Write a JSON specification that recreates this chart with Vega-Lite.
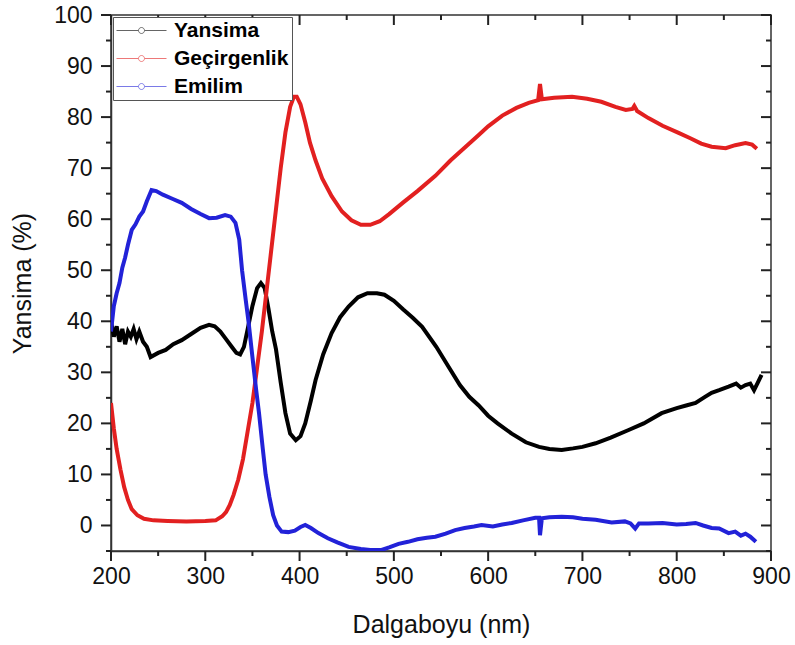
{
  "$schema": "https://vega.github.io/schema/vega-lite/v6.json",
  "width": 660,
  "height": 536,
  "autosize": {"type": "none"},
  "padding": {"left": 111, "top": 15, "right": 24, "bottom": 94},
  "background": "white",
  "config": {
    "view": {"stroke": "#333333", "strokeWidth": 1.5},
    "font": "Liberation Sans",
    "axis": {
      "grid": false,
      "ticks": false,
      "domainColor": "#333333",
      "domainWidth": 1.5,
      "labelFont": "Liberation Sans",
      "labelFontSize": 23,
      "labelColor": "#111111",
      "labelFlush": false,
      "labelOverlap": false,
      "titleFont": "Liberation Sans",
      "titleFontSize": 25,
      "titleFontWeight": "normal",
      "titleColor": "#111111"
    },
    "legend": {
      "orient": "top-left",
      "offset": 2,
      "labelFont": "Liberation Sans",
      "labelFontSize": 21,
      "labelFontWeight": "bold",
      "labelColor": "#000000",
      "strokeColor": "#555555",
      "fillColor": "white",
      "padding": 3,
      "rowPadding": 6,
      "labelOffset": 37,
      "symbolType": "M-1,0H1.2M1.8,0H4M1.8,0A0.3,0.3,0,1,1,1.2,0A0.3,0.3,0,1,1,1.8,0",
      "symbolSize": 400,
      "symbolStrokeWidth": 1,
      "symbolOpacity": 0.6,
      "symbolFillColor": "transparent"
    }
  },
  "datasets": {
    "xt": [
      {"t": 200, "m": 1}, {"t": 250, "m": 0}, {"t": 300, "m": 1}, {"t": 350, "m": 0},
      {"t": 400, "m": 1}, {"t": 450, "m": 0}, {"t": 500, "m": 1}, {"t": 550, "m": 0},
      {"t": 600, "m": 1}, {"t": 650, "m": 0}, {"t": 700, "m": 1}, {"t": 750, "m": 0},
      {"t": 800, "m": 1}, {"t": 850, "m": 0}, {"t": 900, "m": 1}
    ],
    "yt": [
      {"t": -5, "m": 0}, {"t": 0, "m": 1}, {"t": 5, "m": 0}, {"t": 10, "m": 1},
      {"t": 15, "m": 0}, {"t": 20, "m": 1}, {"t": 25, "m": 0}, {"t": 30, "m": 1},
      {"t": 35, "m": 0}, {"t": 40, "m": 1}, {"t": 45, "m": 0}, {"t": 50, "m": 1},
      {"t": 55, "m": 0}, {"t": 60, "m": 1}, {"t": 65, "m": 0}, {"t": 70, "m": 1},
      {"t": 75, "m": 0}, {"t": 80, "m": 1}, {"t": 85, "m": 0}, {"t": 90, "m": 1},
      {"t": 95, "m": 0}, {"t": 100, "m": 1}
    ],
    "main": [
      {"s": "Yansima", "w": 200, "v": 40},
      {"s": "Yansima", "w": 203, "v": 37},
      {"s": "Yansima", "w": 206, "v": 39},
      {"s": "Yansima", "w": 209, "v": 36},
      {"s": "Yansima", "w": 212, "v": 38.5},
      {"s": "Yansima", "w": 215, "v": 35.5},
      {"s": "Yansima", "w": 218, "v": 38},
      {"s": "Yansima", "w": 221, "v": 37},
      {"s": "Yansima", "w": 224, "v": 38.5},
      {"s": "Yansima", "w": 227, "v": 36.5},
      {"s": "Yansima", "w": 230, "v": 38},
      {"s": "Yansima", "w": 234, "v": 36},
      {"s": "Yansima", "w": 238, "v": 35},
      {"s": "Yansima", "w": 242, "v": 33},
      {"s": "Yansima", "w": 250, "v": 33.8},
      {"s": "Yansima", "w": 258, "v": 34.4},
      {"s": "Yansima", "w": 266, "v": 35.5},
      {"s": "Yansima", "w": 275, "v": 36.3},
      {"s": "Yansima", "w": 285, "v": 37.5},
      {"s": "Yansima", "w": 295, "v": 38.7},
      {"s": "Yansima", "w": 304, "v": 39.3},
      {"s": "Yansima", "w": 310, "v": 39},
      {"s": "Yansima", "w": 316, "v": 38},
      {"s": "Yansima", "w": 322, "v": 36.5},
      {"s": "Yansima", "w": 328, "v": 35},
      {"s": "Yansima", "w": 333, "v": 33.8},
      {"s": "Yansima", "w": 337, "v": 33.5},
      {"s": "Yansima", "w": 341, "v": 35},
      {"s": "Yansima", "w": 345, "v": 38.5},
      {"s": "Yansima", "w": 350, "v": 43},
      {"s": "Yansima", "w": 355, "v": 46.5},
      {"s": "Yansima", "w": 359, "v": 47.5},
      {"s": "Yansima", "w": 363, "v": 46.5},
      {"s": "Yansima", "w": 367, "v": 42.5},
      {"s": "Yansima", "w": 371, "v": 38},
      {"s": "Yansima", "w": 375, "v": 34.5},
      {"s": "Yansima", "w": 380, "v": 28},
      {"s": "Yansima", "w": 385, "v": 22},
      {"s": "Yansima", "w": 390, "v": 18},
      {"s": "Yansima", "w": 396, "v": 16.7},
      {"s": "Yansima", "w": 401, "v": 17.5},
      {"s": "Yansima", "w": 406, "v": 20},
      {"s": "Yansima", "w": 412, "v": 24.5},
      {"s": "Yansima", "w": 417, "v": 28.5},
      {"s": "Yansima", "w": 425, "v": 33.5},
      {"s": "Yansima", "w": 434, "v": 37.7},
      {"s": "Yansima", "w": 443, "v": 40.8},
      {"s": "Yansima", "w": 452, "v": 42.9},
      {"s": "Yansima", "w": 462, "v": 44.7},
      {"s": "Yansima", "w": 472, "v": 45.5},
      {"s": "Yansima", "w": 482, "v": 45.5},
      {"s": "Yansima", "w": 490, "v": 45.2},
      {"s": "Yansima", "w": 500, "v": 44},
      {"s": "Yansima", "w": 510, "v": 42.3},
      {"s": "Yansima", "w": 520, "v": 40.7},
      {"s": "Yansima", "w": 530, "v": 38.9},
      {"s": "Yansima", "w": 545, "v": 35},
      {"s": "Yansima", "w": 558, "v": 31.1},
      {"s": "Yansima", "w": 570, "v": 27.5},
      {"s": "Yansima", "w": 580, "v": 25.2},
      {"s": "Yansima", "w": 590, "v": 23.5},
      {"s": "Yansima", "w": 600, "v": 21.5},
      {"s": "Yansima", "w": 610, "v": 20},
      {"s": "Yansima", "w": 625, "v": 18},
      {"s": "Yansima", "w": 640, "v": 16.3},
      {"s": "Yansima", "w": 654, "v": 15.4},
      {"s": "Yansima", "w": 665, "v": 15},
      {"s": "Yansima", "w": 678, "v": 14.8},
      {"s": "Yansima", "w": 690, "v": 15.1},
      {"s": "Yansima", "w": 700, "v": 15.4},
      {"s": "Yansima", "w": 714, "v": 16.1},
      {"s": "Yansima", "w": 730, "v": 17.2},
      {"s": "Yansima", "w": 749, "v": 18.7},
      {"s": "Yansima", "w": 765, "v": 20},
      {"s": "Yansima", "w": 784, "v": 22},
      {"s": "Yansima", "w": 800, "v": 23},
      {"s": "Yansima", "w": 810, "v": 23.5},
      {"s": "Yansima", "w": 820, "v": 24},
      {"s": "Yansima", "w": 830, "v": 25.2},
      {"s": "Yansima", "w": 837, "v": 26},
      {"s": "Yansima", "w": 845, "v": 26.5},
      {"s": "Yansima", "w": 855, "v": 27.2},
      {"s": "Yansima", "w": 863, "v": 27.8},
      {"s": "Yansima", "w": 868, "v": 27},
      {"s": "Yansima", "w": 873, "v": 27.5},
      {"s": "Yansima", "w": 878, "v": 27.8},
      {"s": "Yansima", "w": 882, "v": 26.5},
      {"s": "Yansima", "w": 886, "v": 28},
      {"s": "Yansima", "w": 890, "v": 29.5},

      {"s": "Geçirgenlik", "w": 200, "v": 24},
      {"s": "Geçirgenlik", "w": 203, "v": 19},
      {"s": "Geçirgenlik", "w": 206, "v": 15},
      {"s": "Geçirgenlik", "w": 210, "v": 11},
      {"s": "Geçirgenlik", "w": 214, "v": 7.5},
      {"s": "Geçirgenlik", "w": 218, "v": 5},
      {"s": "Geçirgenlik", "w": 222, "v": 3.2},
      {"s": "Geçirgenlik", "w": 228, "v": 2},
      {"s": "Geçirgenlik", "w": 235, "v": 1.3},
      {"s": "Geçirgenlik", "w": 245, "v": 1},
      {"s": "Geçirgenlik", "w": 260, "v": 0.9},
      {"s": "Geçirgenlik", "w": 280, "v": 0.8},
      {"s": "Geçirgenlik", "w": 300, "v": 0.9},
      {"s": "Geçirgenlik", "w": 311, "v": 1},
      {"s": "Geçirgenlik", "w": 318, "v": 1.8},
      {"s": "Geçirgenlik", "w": 322, "v": 2.6},
      {"s": "Geçirgenlik", "w": 326, "v": 4},
      {"s": "Geçirgenlik", "w": 330, "v": 6},
      {"s": "Geçirgenlik", "w": 335, "v": 9},
      {"s": "Geçirgenlik", "w": 340, "v": 13},
      {"s": "Geçirgenlik", "w": 345, "v": 18.5},
      {"s": "Geçirgenlik", "w": 350, "v": 24},
      {"s": "Geçirgenlik", "w": 355, "v": 31},
      {"s": "Geçirgenlik", "w": 360, "v": 38},
      {"s": "Geçirgenlik", "w": 365, "v": 46},
      {"s": "Geçirgenlik", "w": 370, "v": 54},
      {"s": "Geçirgenlik", "w": 375, "v": 62},
      {"s": "Geçirgenlik", "w": 380, "v": 70},
      {"s": "Geçirgenlik", "w": 385, "v": 77},
      {"s": "Geçirgenlik", "w": 390, "v": 82},
      {"s": "Geçirgenlik", "w": 394, "v": 84},
      {"s": "Geçirgenlik", "w": 397, "v": 84},
      {"s": "Geçirgenlik", "w": 401, "v": 82.5},
      {"s": "Geçirgenlik", "w": 406, "v": 79},
      {"s": "Geçirgenlik", "w": 411, "v": 75},
      {"s": "Geçirgenlik", "w": 417, "v": 71.5},
      {"s": "Geçirgenlik", "w": 424, "v": 68},
      {"s": "Geçirgenlik", "w": 434, "v": 64.5},
      {"s": "Geçirgenlik", "w": 445, "v": 61.5},
      {"s": "Geçirgenlik", "w": 455, "v": 59.8},
      {"s": "Geçirgenlik", "w": 465, "v": 58.9},
      {"s": "Geçirgenlik", "w": 475, "v": 58.9},
      {"s": "Geçirgenlik", "w": 485, "v": 59.6},
      {"s": "Geçirgenlik", "w": 495, "v": 61},
      {"s": "Geçirgenlik", "w": 510, "v": 63.3},
      {"s": "Geçirgenlik", "w": 525, "v": 65.5},
      {"s": "Geçirgenlik", "w": 544, "v": 68.5},
      {"s": "Geçirgenlik", "w": 560, "v": 71.5},
      {"s": "Geçirgenlik", "w": 575, "v": 74},
      {"s": "Geçirgenlik", "w": 590, "v": 76.5},
      {"s": "Geçirgenlik", "w": 600, "v": 78.2},
      {"s": "Geçirgenlik", "w": 615, "v": 80.3},
      {"s": "Geçirgenlik", "w": 630, "v": 81.8},
      {"s": "Geçirgenlik", "w": 643, "v": 82.8},
      {"s": "Geçirgenlik", "w": 653, "v": 83.3},
      {"s": "Geçirgenlik", "w": 655, "v": 86.5},
      {"s": "Geçirgenlik", "w": 657, "v": 83.5},
      {"s": "Geçirgenlik", "w": 670, "v": 83.8},
      {"s": "Geçirgenlik", "w": 689, "v": 84},
      {"s": "Geçirgenlik", "w": 705, "v": 83.6},
      {"s": "Geçirgenlik", "w": 720, "v": 83},
      {"s": "Geçirgenlik", "w": 735, "v": 82},
      {"s": "Geçirgenlik", "w": 746, "v": 81.4},
      {"s": "Geçirgenlik", "w": 753, "v": 81.6},
      {"s": "Geçirgenlik", "w": 755, "v": 82.2},
      {"s": "Geçirgenlik", "w": 758, "v": 81.2},
      {"s": "Geçirgenlik", "w": 770, "v": 79.8},
      {"s": "Geçirgenlik", "w": 785, "v": 78.3},
      {"s": "Geçirgenlik", "w": 802, "v": 76.9},
      {"s": "Geçirgenlik", "w": 815, "v": 75.8},
      {"s": "Geçirgenlik", "w": 826, "v": 74.8},
      {"s": "Geçirgenlik", "w": 837, "v": 74.2},
      {"s": "Geçirgenlik", "w": 852, "v": 73.9},
      {"s": "Geçirgenlik", "w": 862, "v": 74.5},
      {"s": "Geçirgenlik", "w": 873, "v": 74.9},
      {"s": "Geçirgenlik", "w": 880, "v": 74.6},
      {"s": "Geçirgenlik", "w": 885, "v": 73.8},

      {"s": "Emilim", "w": 200, "v": 38},
      {"s": "Emilim", "w": 203, "v": 43},
      {"s": "Emilim", "w": 206, "v": 45.5},
      {"s": "Emilim", "w": 209, "v": 47.5},
      {"s": "Emilim", "w": 212, "v": 50.5},
      {"s": "Emilim", "w": 215, "v": 52.5},
      {"s": "Emilim", "w": 218, "v": 55},
      {"s": "Emilim", "w": 222, "v": 57.9},
      {"s": "Emilim", "w": 226, "v": 59},
      {"s": "Emilim", "w": 230, "v": 60.5},
      {"s": "Emilim", "w": 234, "v": 61.5},
      {"s": "Emilim", "w": 238, "v": 63.5},
      {"s": "Emilim", "w": 243, "v": 65.7},
      {"s": "Emilim", "w": 248, "v": 65.5},
      {"s": "Emilim", "w": 255, "v": 64.8},
      {"s": "Emilim", "w": 265, "v": 64},
      {"s": "Emilim", "w": 275, "v": 63.2},
      {"s": "Emilim", "w": 285, "v": 62},
      {"s": "Emilim", "w": 295, "v": 61},
      {"s": "Emilim", "w": 304, "v": 60.2},
      {"s": "Emilim", "w": 312, "v": 60.3},
      {"s": "Emilim", "w": 321, "v": 60.8},
      {"s": "Emilim", "w": 327, "v": 60.5},
      {"s": "Emilim", "w": 332, "v": 59.3},
      {"s": "Emilim", "w": 336, "v": 56},
      {"s": "Emilim", "w": 339, "v": 50},
      {"s": "Emilim", "w": 343, "v": 44},
      {"s": "Emilim", "w": 346, "v": 39.7},
      {"s": "Emilim", "w": 350, "v": 33},
      {"s": "Emilim", "w": 354, "v": 26.5},
      {"s": "Emilim", "w": 357, "v": 22},
      {"s": "Emilim", "w": 361, "v": 15},
      {"s": "Emilim", "w": 364, "v": 10},
      {"s": "Emilim", "w": 368, "v": 5.6},
      {"s": "Emilim", "w": 372, "v": 2},
      {"s": "Emilim", "w": 376, "v": 0},
      {"s": "Emilim", "w": 381, "v": -1.2},
      {"s": "Emilim", "w": 388, "v": -1.3},
      {"s": "Emilim", "w": 395, "v": -1},
      {"s": "Emilim", "w": 401, "v": -0.3},
      {"s": "Emilim", "w": 406, "v": 0.1},
      {"s": "Emilim", "w": 412, "v": -0.5},
      {"s": "Emilim", "w": 420, "v": -1.5},
      {"s": "Emilim", "w": 430, "v": -2.5},
      {"s": "Emilim", "w": 440, "v": -3.3},
      {"s": "Emilim", "w": 452, "v": -4.2},
      {"s": "Emilim", "w": 465, "v": -4.6},
      {"s": "Emilim", "w": 475, "v": -4.8},
      {"s": "Emilim", "w": 487, "v": -4.8},
      {"s": "Emilim", "w": 495, "v": -4.3},
      {"s": "Emilim", "w": 505, "v": -3.6},
      {"s": "Emilim", "w": 515, "v": -3.2},
      {"s": "Emilim", "w": 525, "v": -2.7},
      {"s": "Emilim", "w": 535, "v": -2.4},
      {"s": "Emilim", "w": 544, "v": -2.2},
      {"s": "Emilim", "w": 555, "v": -1.6},
      {"s": "Emilim", "w": 565, "v": -0.9},
      {"s": "Emilim", "w": 575, "v": -0.5},
      {"s": "Emilim", "w": 585, "v": -0.2},
      {"s": "Emilim", "w": 593, "v": 0.1},
      {"s": "Emilim", "w": 605, "v": -0.2},
      {"s": "Emilim", "w": 615, "v": 0.2},
      {"s": "Emilim", "w": 625, "v": 0.5},
      {"s": "Emilim", "w": 637, "v": 1},
      {"s": "Emilim", "w": 650, "v": 1.5},
      {"s": "Emilim", "w": 654, "v": 1.5},
      {"s": "Emilim", "w": 655, "v": -1.9},
      {"s": "Emilim", "w": 657, "v": 1.4},
      {"s": "Emilim", "w": 665, "v": 1.6},
      {"s": "Emilim", "w": 678, "v": 1.7},
      {"s": "Emilim", "w": 690, "v": 1.6},
      {"s": "Emilim", "w": 700, "v": 1.3},
      {"s": "Emilim", "w": 714, "v": 1.1},
      {"s": "Emilim", "w": 731, "v": 0.6},
      {"s": "Emilim", "w": 745, "v": 0.8},
      {"s": "Emilim", "w": 751, "v": 0.4},
      {"s": "Emilim", "w": 756, "v": -0.6},
      {"s": "Emilim", "w": 760, "v": 0.4},
      {"s": "Emilim", "w": 770, "v": 0.4},
      {"s": "Emilim", "w": 785, "v": 0.5},
      {"s": "Emilim", "w": 800, "v": 0.2},
      {"s": "Emilim", "w": 810, "v": 0.3},
      {"s": "Emilim", "w": 820, "v": 0.5},
      {"s": "Emilim", "w": 828, "v": 0},
      {"s": "Emilim", "w": 837, "v": -0.5},
      {"s": "Emilim", "w": 845, "v": -0.6},
      {"s": "Emilim", "w": 855, "v": -1.5},
      {"s": "Emilim", "w": 862, "v": -1.2},
      {"s": "Emilim", "w": 868, "v": -2},
      {"s": "Emilim", "w": 873, "v": -1.6},
      {"s": "Emilim", "w": 878, "v": -2.2},
      {"s": "Emilim", "w": 884, "v": -3.2}
    ]
  },
  "layer": [
    {
      "data": {"name": "main"},
      "mark": {"type": "line", "strokeWidth": 4, "clip": true},
      "encoding": {
        "x": {
          "field": "w", "type": "quantitative", "title": "Dalgaboyu (nm)",
          "scale": {"domain": [200, 900], "nice": false, "zero": false},
          "axis": {
            "orient": "bottom",
            "values": [200, 300, 400, 500, 600, 700, 800, 900],
            "ticks": false, "tickSize": 0,
            "labelPadding": 14,
            "titlePadding": 24
          }
        },
        "y": {
          "field": "v", "type": "quantitative", "title": "Yansima (%)",
          "scale": {"domain": [-5, 100], "nice": false, "zero": false},
          "axis": {
            "orient": "left",
            "values": [0, 10, 20, 30, 40, 50, 60, 70, 80, 90, 100],
            "ticks": false, "tickSize": 0,
            "labelPadding": 19,
            "titlePadding": 18
          }
        },
        "color": {
          "field": "s", "type": "nominal",
          "scale": {"domain": ["Yansima", "Geçirgenlik", "Emilim"], "range": ["#000000", "#e22020", "#2222d8"]},
          "legend": {"title": null}
        }
      }
    },
    {
      "data": {"name": "xt"},
      "transform": [{"filter": "datum.m == 1"}],
      "mark": {"type": "rule", "strokeWidth": 2, "color": "#222222", "opacity": 1, "y2Offset": 10},
      "encoding": {
        "x": {"field": "t", "type": "quantitative", "title": "Dalgaboyu (nm)"},
        "y": {"datum": -5, "type": "quantitative", "title": "Yansima (%)"},
        "y2": {"datum": -5}
      }
    },
    {
      "data": {"name": "xt"},
      "transform": [{"filter": "datum.m == 0"}],
      "mark": {"type": "rule", "strokeWidth": 2, "color": "#222222", "opacity": 1, "y2Offset": 5},
      "encoding": {
        "x": {"field": "t", "type": "quantitative", "title": "Dalgaboyu (nm)"},
        "y": {"datum": -5, "type": "quantitative", "title": "Yansima (%)"},
        "y2": {"datum": -5}
      }
    },
    {
      "data": {"name": "xt"},
      "transform": [{"filter": "datum.m == 1"}],
      "mark": {"type": "rule", "strokeWidth": 2, "color": "#222222", "opacity": 1, "y2Offset": 10},
      "encoding": {
        "x": {"field": "t", "type": "quantitative", "title": "Dalgaboyu (nm)"},
        "y": {"datum": 100, "type": "quantitative", "title": "Yansima (%)"},
        "y2": {"datum": 100}
      }
    },
    {
      "data": {"name": "xt"},
      "transform": [{"filter": "datum.m == 0"}],
      "mark": {"type": "rule", "strokeWidth": 2, "color": "#222222", "opacity": 1, "y2Offset": 5},
      "encoding": {
        "x": {"field": "t", "type": "quantitative", "title": "Dalgaboyu (nm)"},
        "y": {"datum": 100, "type": "quantitative", "title": "Yansima (%)"},
        "y2": {"datum": 100}
      }
    },
    {
      "data": {"name": "yt"},
      "transform": [{"filter": "datum.m == 1"}],
      "mark": {"type": "rule", "strokeWidth": 2, "color": "#222222", "opacity": 1, "x2Offset": -10},
      "encoding": {
        "y": {"field": "t", "type": "quantitative", "title": "Yansima (%)"},
        "x": {"datum": 200, "type": "quantitative", "title": "Dalgaboyu (nm)"},
        "x2": {"datum": 200}
      }
    },
    {
      "data": {"name": "yt"},
      "transform": [{"filter": "datum.m == 0"}],
      "mark": {"type": "rule", "strokeWidth": 2, "color": "#222222", "opacity": 1, "x2Offset": -5},
      "encoding": {
        "y": {"field": "t", "type": "quantitative", "title": "Yansima (%)"},
        "x": {"datum": 200, "type": "quantitative", "title": "Dalgaboyu (nm)"},
        "x2": {"datum": 200}
      }
    },
    {
      "data": {"name": "yt"},
      "transform": [{"filter": "datum.m == 1"}],
      "mark": {"type": "rule", "strokeWidth": 2, "color": "#222222", "opacity": 1, "x2Offset": -10},
      "encoding": {
        "y": {"field": "t", "type": "quantitative", "title": "Yansima (%)"},
        "x": {"datum": 900, "type": "quantitative", "title": "Dalgaboyu (nm)"},
        "x2": {"datum": 900}
      }
    },
    {
      "data": {"name": "yt"},
      "transform": [{"filter": "datum.m == 0"}],
      "mark": {"type": "rule", "strokeWidth": 2, "color": "#222222", "opacity": 1, "x2Offset": -5},
      "encoding": {
        "y": {"field": "t", "type": "quantitative", "title": "Yansima (%)"},
        "x": {"datum": 900, "type": "quantitative", "title": "Dalgaboyu (nm)"},
        "x2": {"datum": 900}
      }
    }
  ]
}
